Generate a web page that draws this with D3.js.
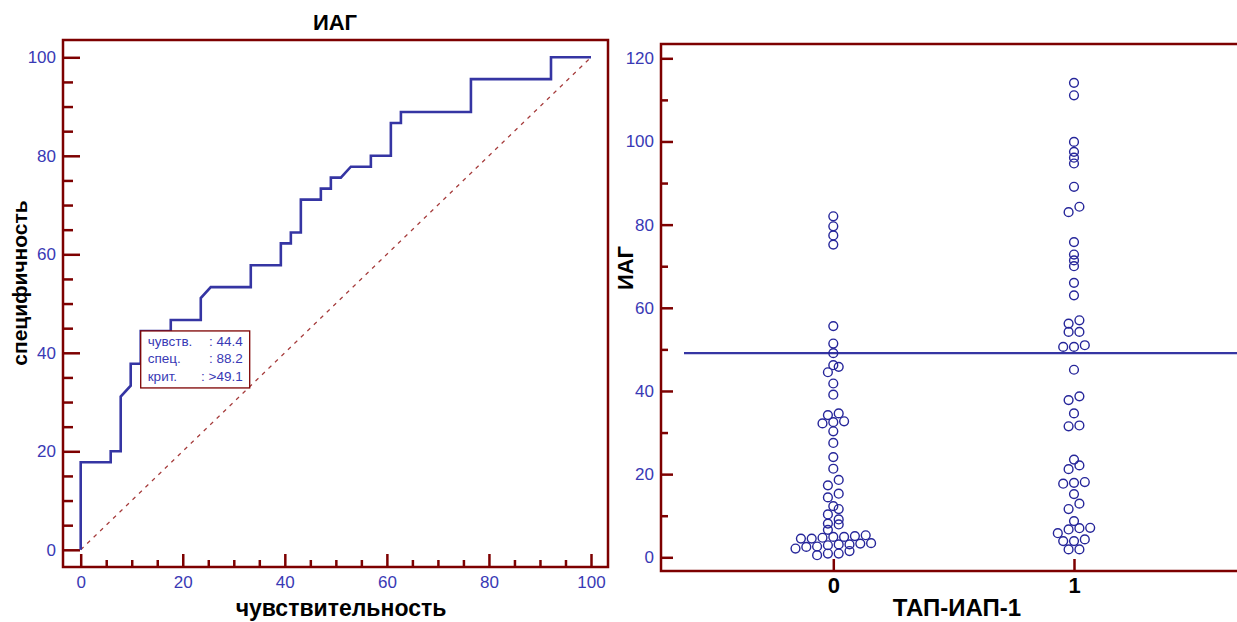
<!DOCTYPE html>
<html><head><meta charset="utf-8">
<script src="https://cdn.jsdelivr.net/npm/d3@7"></script>
<style>
html,body{margin:0;padding:0;background:#fff;}
svg{display:block;}
</style></head>
<body>
<svg id="chart" width="1237" height="622"></svg>
<script>
// ---------- DATA ----------
// ROC curve (x = 100 - specificity, y = sensitivity)
const rocX = [0,0,5.88,5.88,7.84,7.84,9.80,9.80,11.76,11.76,17.65,17.65,23.53,23.53,25.49,33.33,33.33,39.22,39.22,41.18,41.18,43.14,43.14,47.06,47.06,49.02,49.02,50.98,52.94,56.86,56.86,60.78,60.78,62.75,62.75,76.47,76.47,92.16,92.16,100];
const rocY = [0,17.78,17.78,20,20,31.11,33.33,37.78,37.78,44.44,44.44,46.67,46.67,51.11,53.33,53.33,57.78,57.78,62.22,62.22,64.44,64.44,71.11,71.11,73.33,73.33,75.56,75.56,77.78,77.78,80,80,86.67,86.67,88.89,88.89,95.56,95.56,100,100];
const cutPoint = [11.76, 44.44];
const boxLabels = ["чувств.", "спец.", "крит."];
const boxValues = [": 44.4", ": 88.2", ": >49.1"];
const rocTicks = [0,20,40,60,80,100];
const rocMinor = d3.range(0,101,5);

// Dot plot
const categories = ["0","1"];
const group0 = [0.5,0.9,0.9,1.5, 2.1,2.5,2.6,2.9,3.1,3.1,3.3,3.4, 4.5,4.5,4.7,4.9,4.9,5.1,5.3,
  6.6,7.9,8.1,9.1,10.3,11.6,12.3,14.4,15.3,17.3,18.6,21.3,24.1,27.5,30.3,32.2,32.5,32.7,34.2,34.6,
  39.1,41.8,44.5,45.8,46.2,49.1,51.4,55.6,75.2,77.4,79.6,82.0];
const group1 = [1.9,1.9, 3.9,3.9,4.3, 5.8,6.7,7.0,7.1, 8.7, 11.6,12.9, 15.2, 17.7,17.9,18.1, 21.2,22.1, 23.5,
  31.5,31.7, 34.6, 37.8,38.7, 45.1, 50.6,50.6,51.0, 54.2,54.2, 56.2,57.0, 63.0, 66.0, 70.0,71.4,72.8, 75.8,
  83.0,84.3, 89.1, 94.7,96.1,97.5,99.9, 111.1,114.1];
const criterion = 49.1;
const dotTicks = [0,20,40,60,80,100,120];
const dotMinor = d3.range(0,121,10);

// ---------- STYLE ----------
const FRAME = "#7d0000";
const BLUE = "#3535a3";
const LABEL = "#3939b5";
const tickFont = '"Liberation Sans Narrow","Arial Narrow","Liberation Sans",Arial,sans-serif';
const boldFont = '"Liberation Sans",Arial,sans-serif';

const svg = d3.select("#chart");

// ================= LEFT: ROC =================
const L = {left:63, right:608, top:40, bottom:567};
const x = d3.scaleLinear().domain([0,100]).range([80.7, 591]);
const y = d3.scaleLinear().domain([0,100]).range([549.8, 57.3]);

svg.append("text").attr("x",335).attr("y",30).attr("text-anchor","middle")
  .attr("font-family",boldFont).attr("font-weight","bold").attr("font-size",22).text("ИАГ");

svg.append("rect").attr("x",L.left).attr("y",L.top).attr("width",L.right-L.left).attr("height",L.bottom-L.top)
  .attr("fill","none").attr("stroke",FRAME).attr("stroke-width",2.5);

function styleAxis(g){
  g.select(".domain").remove();
  g.selectAll("line").attr("stroke",FRAME).attr("stroke-width",2.5);
  g.selectAll("text").attr("fill",LABEL).attr("font-family",tickFont).attr("font-size",17);
}
svg.append("g").attr("transform",`translate(${L.left},0)`)
  .call(d3.axisLeft(y).tickValues(rocMinor.filter(v=>v%20)).tickSize(-10).tickFormat(""))
  .call(styleAxis);
svg.append("g").attr("transform",`translate(${L.left},0)`)
  .call(d3.axisLeft(y).tickValues(rocTicks).tickSize(-17).tickPadding(7))
  .call(styleAxis);
svg.append("g").attr("transform",`translate(0,${L.bottom})`)
  .call(d3.axisBottom(x).tickValues(rocMinor.filter(v=>v%20)).tickSize(-7).tickFormat(""))
  .call(styleAxis);
svg.append("g").attr("transform",`translate(0,${L.bottom})`)
  .call(d3.axisBottom(x).tickValues(rocTicks).tickSize(-13).tickPadding(9))
  .call(styleAxis);

// diagonal reference
svg.append("line").attr("x1",x(0)).attr("y1",y(0)).attr("x2",x(100)).attr("y2",y(100))
  .attr("stroke","#a53a3a").attr("stroke-width",1.2).attr("stroke-dasharray","4,5");

// ROC curve
const rocPts = rocX.map((v,i)=>[v,rocY[i]]);
svg.append("path").datum(rocPts)
  .attr("d", d3.line().x(d=>x(d[0])).y(d=>y(d[1])))
  .attr("fill","none").attr("stroke",BLUE).attr("stroke-width",2.6).attr("stroke-linejoin","miter");

// cut-off box
const bx = x(cutPoint[0]), by = y(cutPoint[1]);
const box = svg.append("g").attr("transform",`translate(${bx},${by})`);
box.append("rect").attr("width",109).attr("height",57).attr("fill","#fff")
  .attr("stroke",FRAME).attr("stroke-width",1.3);
boxLabels.forEach((t,i)=>{
  box.append("text").attr("x",7).attr("y",15+i*17.5).attr("fill",LABEL)
    .attr("font-family",'"Liberation Sans",Arial,sans-serif').attr("font-size",13.5).text(t);
  box.append("text").attr("x",102).attr("y",15+i*17.5).attr("text-anchor","end").attr("fill",LABEL)
    .attr("font-family",'"Liberation Sans",Arial,sans-serif').attr("font-size",13.5).text(boxValues[i]);
});

svg.append("text").attr("transform","translate(27,283) rotate(-90)").attr("text-anchor","middle")
  .attr("font-family",boldFont).attr("font-weight","bold").attr("font-size",21).text("специфичность");
svg.append("text").attr("x",341).attr("y",616).attr("text-anchor","middle")
  .attr("font-family",boldFont).attr("font-weight","bold").attr("font-size",23).text("чувствительность");

// ================= RIGHT: dot plot =================
const R = {left:661, right:1252, top:44, bottom:571};
const xc = d3.scalePoint().domain(categories).range([833.3, 1074]);
const yv = d3.scaleLinear().domain([0,120]).range([557.3, 58.3]);

svg.append("rect").attr("x",R.left).attr("y",R.top).attr("width",R.right-R.left).attr("height",R.bottom-R.top)
  .attr("fill","none").attr("stroke",FRAME).attr("stroke-width",2.5);

svg.append("g").attr("transform",`translate(${R.left},0)`)
  .call(d3.axisLeft(yv).tickValues(dotMinor.filter(v=>v%20)).tickSize(-7).tickFormat(""))
  .call(styleAxis);
svg.append("g").attr("transform",`translate(${R.left},0)`)
  .call(d3.axisLeft(yv).tickValues(dotTicks).tickSize(-12).tickPadding(7))
  .call(styleAxis);
svg.append("g").attr("transform",`translate(0,${R.bottom})`)
  .call(d3.axisBottom(xc).tickSize(-12).tickPadding(6))
  .call(g=>{ g.select(".domain").remove();
    g.selectAll("line").attr("stroke",FRAME).attr("stroke-width",2.5);
    g.selectAll("text").attr("fill","#000").attr("font-family",boldFont).attr("font-weight","bold").attr("font-size",22); });

// criterion line
svg.append("line").attr("x1",684).attr("x2",1237).attr("y1",yv(criterion)).attr("y2",yv(criterion))
  .attr("stroke",BLUE).attr("stroke-width",2.2);

// dot layout: rows of near-equal values, centred, ascending left-to-right
function layout(values, cat){
  const sorted = values.slice().sort((a,b)=>a-b);
  const out = []; let row = [];
  const flush = ()=>{ row.forEach((v,i)=>out.push({v, dx:(i-(row.length-1)/2)*10.8, cat})); row=[]; };
  sorted.forEach(v=>{
    if(row.length && (yv(row[0]) - yv(v)) > 5.5) flush();
    row.push(v);
  });
  flush();
  return out;
}
const dots = layout(group0,"0").concat(layout(group1,"1"));
svg.append("g").selectAll("circle").data(dots).join("circle")
  .attr("cx",d=>xc(d.cat)+d.dx).attr("cy",d=>yv(d.v)).attr("r",4.4)
  .attr("fill","none").attr("stroke","#26269a").attr("stroke-width",1.4);

svg.append("text").attr("transform","translate(633,268) rotate(-90)").attr("text-anchor","middle")
  .attr("font-family",boldFont).attr("font-weight","bold").attr("font-size",22).text("ИАГ");
svg.append("text").attr("x",957).attr("y",616).attr("text-anchor","middle")
  .attr("font-family",boldFont).attr("font-weight","bold").attr("font-size",24).text("ТАП-ИАП-1");
</script>
</body></html>
